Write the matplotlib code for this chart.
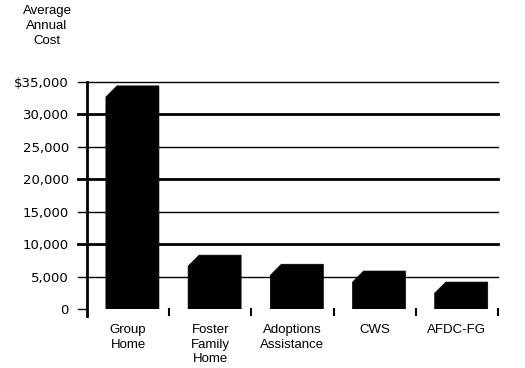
import matplotlib
matplotlib.use("Agg")
import matplotlib.pyplot as plt
from matplotlib.patches import Polygon

categories = ["Group\nHome", "Foster\nFamily\nHome", "Adoptions\nAssistance", "CWS", "AFDC-FG"]
costs = [34400, 8300, 6900, 5850, 4150]
yticks = [0, 5000, 10000, 15000, 20000, 25000, 30000, 35000]
ylabels = ["0", "5,000", "10,000", "15,000", "20,000", "25,000", "30,000", "$35,000"]

plt.rcParams['font.family'] = ['Liberation Sans', 'DejaVu Sans']

fig = plt.figure(figsize=(5.25, 3.68), dpi=100)
ax = fig.add_axes([87 / 525, 59 / 368, 411 / 525, 227 / 368])
ax.set_xlim(0, 5)
ax.set_ylim(0, 35000)
for s in ax.spines.values():
    s.set_visible(False)

# gitter + yatay tikler (tek cizgi)
for v in yticks[1:]:
    lw = 2 if v % 10000 == 0 else 1
    ax.axhline(v, xmin=-0.022, xmax=1, color='black', lw=lw, clip_on=False, zorder=1)
ax.plot([-0.11, 0], [0, 0], color='black', lw=1, clip_on=False)

# y ekseni
ax.axvline(0, ymin=-0.03, ymax=1, color='black', lw=2, clip_on=False, zorder=3)

# alt tikler
for i in range(1, 6):
    ax.plot([i, i], [0, -1000], color='black', lw=1.5, clip_on=False)

# pahli cubuklar
left, width = 0.23, 0.645
cx, cy = 0.134, 1700
for i, v in enumerate(costs):
    x0 = i + left
    x1 = x0 + width
    pts = [(x0, 0), (x0, v - cy), (x0 + cx, v), (x1, v), (x1, 0)]
    ax.add_patch(Polygon(pts, closed=True, facecolor='black', edgecolor='black', lw=0.5, zorder=2))

ax.set_yticks(yticks)
ax.set_yticklabels(ylabels, fontsize=9.5, family='DejaVu Sans')
ax.tick_params(axis='y', length=0, pad=13)
ax.set_xticks([])
for i, lab in enumerate(categories):
    ax.text(i + 0.5, -2300, lab, ha='center', va='top', fontsize=9.5, linespacing=1.3)

fig.text(47 / 525, 1 - 5 / 368, "Average\nAnnual\nCost", ha='center', va='top', fontsize=9.5, linespacing=1.35)

fig.savefig("out.png", dpi=100)
